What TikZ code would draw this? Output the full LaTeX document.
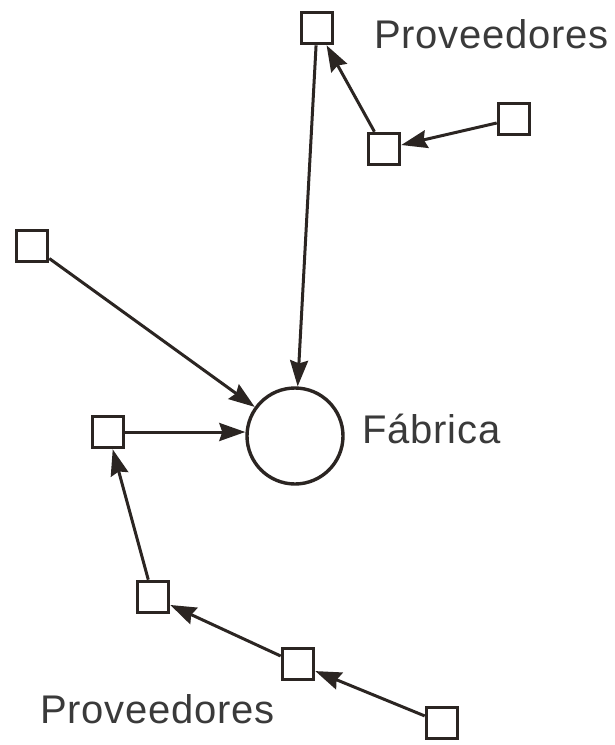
\documentclass[tikz,border=0pt]{standalone}
\usepackage{fontspec}
\setmainfont{Liberation Sans}[LetterSpace=2]
\usetikzlibrary{arrows.meta}
\definecolor{ink}{HTML}{2B2522}
\definecolor{txt}{HTML}{3A3A3A}
\begin{document}
\begin{tikzpicture}[x=1pt,y=-1pt,
  site/.style={draw=ink,line width=3.6pt,fill=white,minimum size=31pt,inner sep=0pt,rectangle},
  plant/.style={draw=ink,line width=3.4pt,fill=white,circle,minimum size=96pt,inner sep=0pt},
  flow/.style={draw=ink,line width=3pt,-{Stealth[length=26pt,width=18pt,inset=3pt]}},
  lbl/.style={text=txt,font=\fontsize{40}{44}\selectfont,inner sep=0pt,anchor=base west}]
\useasboundingbox (0,0) rectangle (614,745);

% factory
\node[plant] (fab) at (295,436) {};
\node[lbl] (fablbl) at (362,443) {Fábrica};

% upper supplier chain
\node[site] (a) at (317,28) {};
\node[site] (b) at (384,149) {};
\node[site] (c) at (514,119) {};
\node[lbl] (provtop) at (374,48) {Proveedores};

% single supplier on the left
\node[site] (d) at (32,246) {};

% lower supplier chain
\node[site] (e) at (108,432) {};
\node[site] (f) at (153,597) {};
\node[site] (g) at (298,664) {};
\node[site] (h) at (442,723) {};
\node[lbl] (provbot) at (40,723) {Proveedores};

% flows
\draw[flow] (c) -- (b);
\draw[flow] (b) -- (a);
\draw[flow] (a) -- (fab);
\draw[flow] (d) -- (fab);
\draw[flow] (e.east) -- (e.east -| fab.west);
\draw[flow] (h) -- (g);
\draw[flow] (g) -- (f);
\draw[flow] (f) -- (e);
\end{tikzpicture}
\end{document}
